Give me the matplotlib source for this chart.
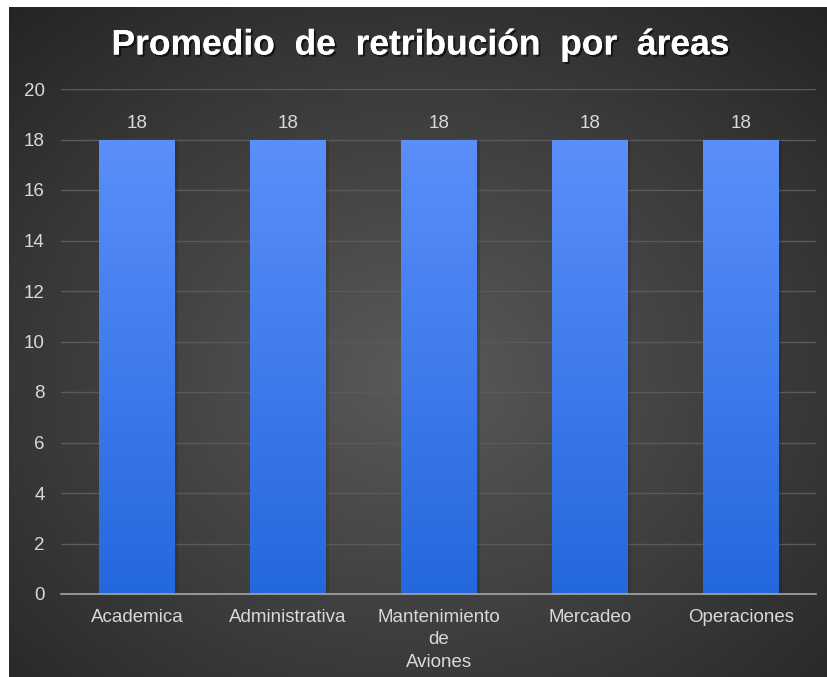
import numpy as np
import matplotlib
matplotlib.use("Agg")
import matplotlib.pyplot as plt
import matplotlib.patheffects as pe

areas = ["Academica", "Administrativa", "Mantenimiento\nde\nAviones", "Mercadeo", "Operaciones"]
promedio = [18, 18, 18, 18, 18]
y_ticks = [0, 2, 4, 6, 8, 10, 12, 14, 16, 18, 20]

plt.rcParams["font.family"] = ["Liberation Sans", "DejaVu Sans"]
txt = "#d9d9d9"

fig = plt.figure(figsize=(8.28, 6.77), dpi=100, facecolor="white")

# fondo oscuro con degradado radial
bg = fig.add_axes([9 / 828, 0, 819 / 828, 670 / 677])
bg.set_axis_off()
yy, xx = np.mgrid[0:1:300j, 0:1:300j]
r = np.sqrt(((xx - 0.5) / 0.75) ** 2 + ((yy - 0.55) / 0.75) ** 2)
r = np.clip(r, 0, 1)
c0 = np.array([0x5a, 0x5a, 0x5a]) / 255
c1 = np.array([0x24, 0x24, 0x24]) / 255
img = c0[None, None, :] * (1 - r[..., None]) + c1[None, None, :] * r[..., None]
bg.imshow(img, aspect="auto", extent=[0, 1, 0, 1], interpolation="bicubic")

ax = fig.add_axes([61.5 / 828, 1 - 594 / 677, 755 / 828, 505 / 677])
ax.patch.set_alpha(0)
x = np.arange(len(areas))
bars = ax.bar(x, promedio, width=0.5, color="none", zorder=3)

# degradado vertical dentro de cada barra
grad = np.linspace(0, 1, 256)[:, None]
top = np.array([0x5b, 0x8f, 0xfa]) / 255
bot = np.array([0x24, 0x68, 0xde]) / 255
gimg = top[None, None, :] * (1 - grad[..., None]) + bot[None, None, :] * grad[..., None]
for b in bars:
    bx, bw, bh = b.get_x(), b.get_width(), b.get_height()
    # sombra ligera
    ax.bar(bx + bw / 2 + 0.02, bh, width=bw, color="black", alpha=0.12, zorder=2, linewidth=0)
    im = ax.imshow(gimg, extent=[bx, bx + bw, 0, bh], aspect="auto", zorder=3)
    im.set_clip_path(b)
    ax.text(bx + bw / 2, bh + 0.3, str(bh), ha="center", va="bottom", color=txt, fontsize=13.5)

ax.set_xlim(-0.5, len(areas) - 0.5)
ax.set_ylim(0, 20)
ax.set_yticks(y_ticks)
ax.set_xticks(x)
ax.set_xticklabels(areas, color=txt, fontsize=13.5, linespacing=1.4)
ax.tick_params(axis="y", colors=txt, labelsize=13.5, length=0, pad=12)
ax.tick_params(axis="x", colors=txt, length=0, pad=11)
ax.grid(axis="y", color="#5a5a5a", linewidth=1, zorder=0)
for s in ["top", "right", "left"]:
    ax.spines[s].set_visible(False)
ax.spines["bottom"].set_color("#a6a6a6")
ax.spines["bottom"].set_linewidth(1.2)
ax.spines["bottom"].set_zorder(4)

fig.text(0.508, 1 - 45 / 677, "Promedio  de  retribución  por  áreas", ha="center", va="center",
         color="white", fontsize=25.5, fontweight="bold",
         path_effects=[pe.withSimplePatchShadow(offset=(1.5, -1.5), shadow_rgbFace="black", alpha=0.6), pe.Normal()])

fig.savefig("out.png", dpi=100, facecolor="white")
